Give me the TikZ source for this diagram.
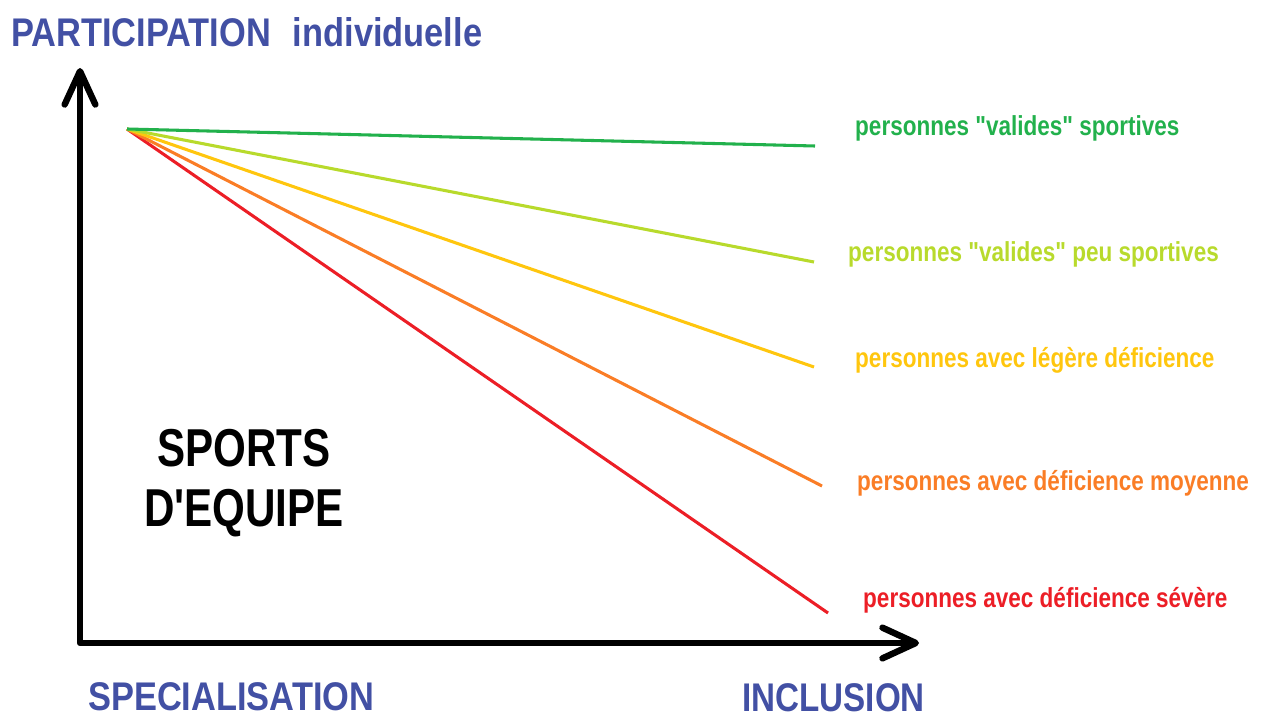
\documentclass[tikz,border=0pt]{standalone}
\usepackage{fontspec}
\setmainfont{Liberation Sans}[Ligatures=TeXOff]
\usetikzlibrary{arrows.meta}

\definecolor{titleblue}{RGB}{66,80,164}
\definecolor{sportgreen}{RGB}{34,177,76}
\definecolor{limegreen}{RGB}{184,218,44}
\definecolor{goldyellow}{RGB}{255,198,14}
\definecolor{paintorange}{RGB}{250,125,38}
\definecolor{paintred}{RGB}{236,30,38}

\begin{document}
\begin{tikzpicture}[x=0.75pt,y=-0.75pt,
  axisline/.style={line width=4.8pt,line join=round,
    {Straight Barb[length=25pt,width=23pt,line cap=round,round]}-{Straight Barb[length=25pt,width=23pt,line cap=round,round]}},
  trend/.style={line width=2.3pt},
  axistitle/.style={inner sep=0pt,anchor=base west,text=titleblue,xscale=0.86,
    font=\fontsize{30pt}{34pt}\selectfont\bfseries},
  grouptext/.style={inner sep=0pt,anchor=base west,xscale=0.82,
    font=\fontsize{20.6pt}{24pt}\selectfont\bfseries}]

\useasboundingbox (0,0) rectangle (1266,717);

\coordinate (Origin)   at (80,643);
\coordinate (XAxisMax) at (919,643);
\coordinate (YAxisMax) at (80,68);
\coordinate (Start)    at (127,129);

% axes
\draw [axisline] (YAxisMax) -- (Origin) -- (XAxisMax);

% end points of the lines
\coordinate (EndValid)  at (815,146);
\coordinate (EndLowFit) at (814,262);
\coordinate (EndLight)  at (814,367);
\coordinate (EndMedium) at (822,486);
\coordinate (EndSevere) at (828,613);

\draw [trend, paintred]    (Start) -- (EndSevere);
\draw [trend, paintorange] (Start) -- (EndMedium);
\draw [trend, goldyellow]  (Start) -- (EndLight);
\draw [trend, limegreen]   (Start) -- (EndLowFit);
\draw [trend, sportgreen]  (Start) -- (EndValid);

\node [grouptext, text=sportgreen]  (Valid)  at (855,135) {personnes "valides" sportives};
\node [grouptext, text=limegreen]   (LowFit) at (848,261) {personnes "valides" peu sportives};
\node [grouptext, text=goldyellow]  (Light)  at (855,367) {personnes avec légère déficience};
\node [grouptext, text=paintorange] (Medium) at (857,490) {personnes avec déficience moyenne};
\node [grouptext, text=paintred]    (Severe) at (863,607) {personnes avec déficience sévère};

% axis titles
\node [axistitle] (Participation) at (11,47) {PARTICIPATION\hspace{19pt}individuelle};
\node [axistitle] (Specialisation) at (88,710) {SPECIALISATION};
\node [axistitle, xscale=0.965] (Inclusion) at (742,711) {INCLUSION};

\node [inner sep=0pt, align=center, xscale=0.79,
  font=\fontsize{40pt}{45pt}\selectfont\bfseries] (Team) at (244,483) {SPORTS\\D'EQUIPE};
\end{tikzpicture}
\end{document}
